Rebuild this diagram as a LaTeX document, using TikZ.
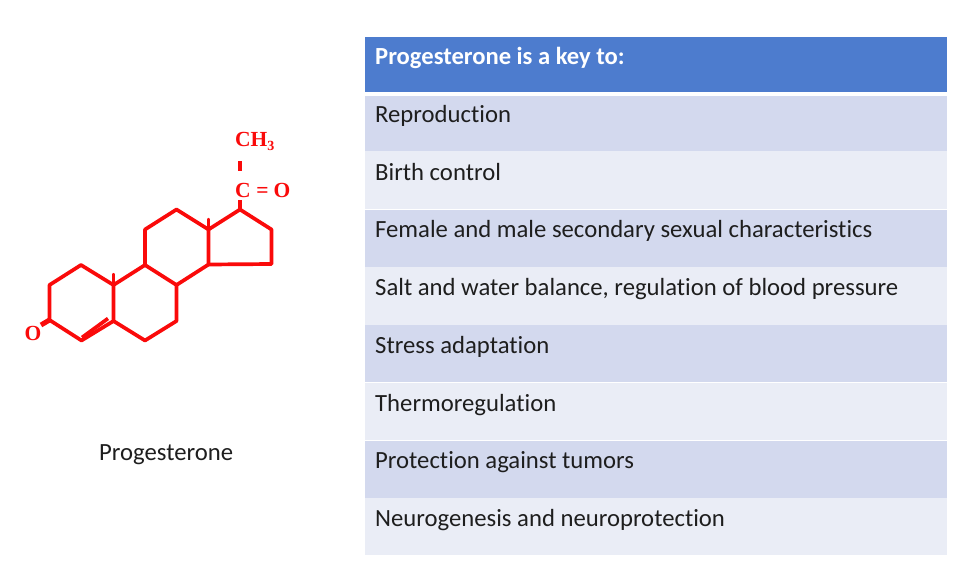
\documentclass[tikz,border=0pt]{standalone}
\usepackage{fontspec}
\setmainfont[Ligatures=CommonOff]{Carlito}
\newfontfamily\chemfont{Liberation Serif}
\definecolor{headblue}{HTML}{4D7CCE}
\definecolor{rowdark}{HTML}{D3D9EE}
\definecolor{rowlight}{HTML}{EAEDF6}
\definecolor{molred}{HTML}{FA0A0A}
\definecolor{inktext}{HTML}{1E1E1E}
\tikzset{
  x=1pt,y=-1pt,
  headrow/.style={fill=headblue,draw=none},
  darkrow/.style={fill=rowdark,draw=none},
  lightrow/.style={fill=rowlight,draw=none},
  celltext/.style={anchor=base west,inner sep=0pt,text=inktext,font=\fontsize{24.7}{28}\selectfont},
  headtext/.style={celltext,text=white,font=\fontsize{24.6}{28}\selectfont\bfseries},
  bond/.style={draw=molred,line width=3.7pt,line join=round,line cap=round},
  atom/.style={inner sep=0pt,text=molred,font=\fontsize{21.5}{26}\selectfont\chemfont\bfseries},
}
\begin{document}
\begin{tikzpicture}
\useasboundingbox (0,0) rectangle (974,570);
\fill[white] (0,0) rectangle (974,570);
% table
\fill[headrow] (365,37) rectangle (947,92);
\fill[darkrow] (365,95.5) rectangle (947,151);
\fill[lightrow] (365,151) rectangle (947,209);
\fill[darkrow] (365,209.5) rectangle (947,266.5);
\fill[lightrow] (365,267) rectangle (947,324.5);
\fill[darkrow] (365,325) rectangle (947,382);
\fill[lightrow] (365,382.5) rectangle (947,440);
\fill[darkrow] (365,440.5) rectangle (947,497.5);
\fill[lightrow] (365,498) rectangle (947,555);
\node[headtext] (h) at (375,64) {Progesterone is a key to:};
\node[celltext] (r1) at (375,122) {Reproduction};
\node[celltext] (r2) at (375,180) {Birth control};
\node[celltext] (r3) at (375,237) {Female and male secondary sexual characteristics};
\node[celltext] (r4) at (375,295) {Salt and water balance, regulation of blood pressure};
\node[celltext] (r5) at (375,353) {Stress adaptation};
\node[celltext] (r6) at (375,411) {Thermoregulation};
\node[celltext] (r7) at (375,468) {Protection against tumors};
\node[celltext] (r8) at (375,526) {Neurogenesis and neuroprotection};
\node[celltext] (cap) at (99,460) {Progesterone};
% molecule
\coordinate (a1) at (49.5,320);
\coordinate (a2) at (49.5,285);
\coordinate (a3) at (81,265);
\coordinate (a4) at (113.5,285);
\coordinate (a5) at (113.5,321);
\coordinate (a6) at (81.5,340.5);
\coordinate (b1) at (145,340.5);
\coordinate (b2) at (176.5,321);
\coordinate (b3) at (176.5,285);
\coordinate (b4) at (145,265);
\coordinate (c1) at (145,229.5);
\coordinate (c2) at (176.5,209.5);
\coordinate (c3) at (208.5,229.5);
\coordinate (c4) at (208.5,264.5);
\coordinate (d1) at (240,209.5);
\coordinate (d2) at (271.5,229.5);
\coordinate (d3) at (271.5,264);
\coordinate (m1) at (113.5,274);
\coordinate (m2) at (208.5,219);
\coordinate (dbA) at (82,337.5);
\coordinate (dbB) at (108,318.5);
\coordinate (oa) at (41,325);
\coordinate (s1) at (240,161);
\coordinate (s2) at (240,171);
\coordinate (s3) at (240,200);
\draw[bond] (a1)--(a2)--(a3)--(a4)--(a5)--(a6)--cycle;
\draw[bond] (a5)--(b1)--(b2)--(b3)--(b4)--(a4);
\draw[bond] (b4)--(c1)--(c2)--(c3)--(c4)--(b3);
\draw[bond] (c3)--(d1)--(d2)--(d3)--(c4);
\draw[bond,line width=2.4pt] (a4)--(m1);
\draw[bond,line width=2.4pt] (c3)--(m2);
\draw[bond,line cap=butt] (dbA)--(dbB);
\draw[bond,line width=5pt,line cap=butt] (a1)--(oa);
\draw[bond,line width=3.7pt,line cap=butt] (s1)--(s2);
\draw[bond,line cap=butt] (d1)--(s3);
\node[atom,anchor=base] (o1) at (33,340) {O};
\node[atom,anchor=base west] (ch3) at (235,146) {CH\raisebox{-4pt}{\fontsize{14}{16}\selectfont 3}};
\node[atom,anchor=base] (cc) at (243,197) {C};
\node[atom,anchor=base] (eq) at (262.5,197) {=};
\node[atom,anchor=base] (oo) at (282,197) {O};
\end{tikzpicture}
\end{document}
